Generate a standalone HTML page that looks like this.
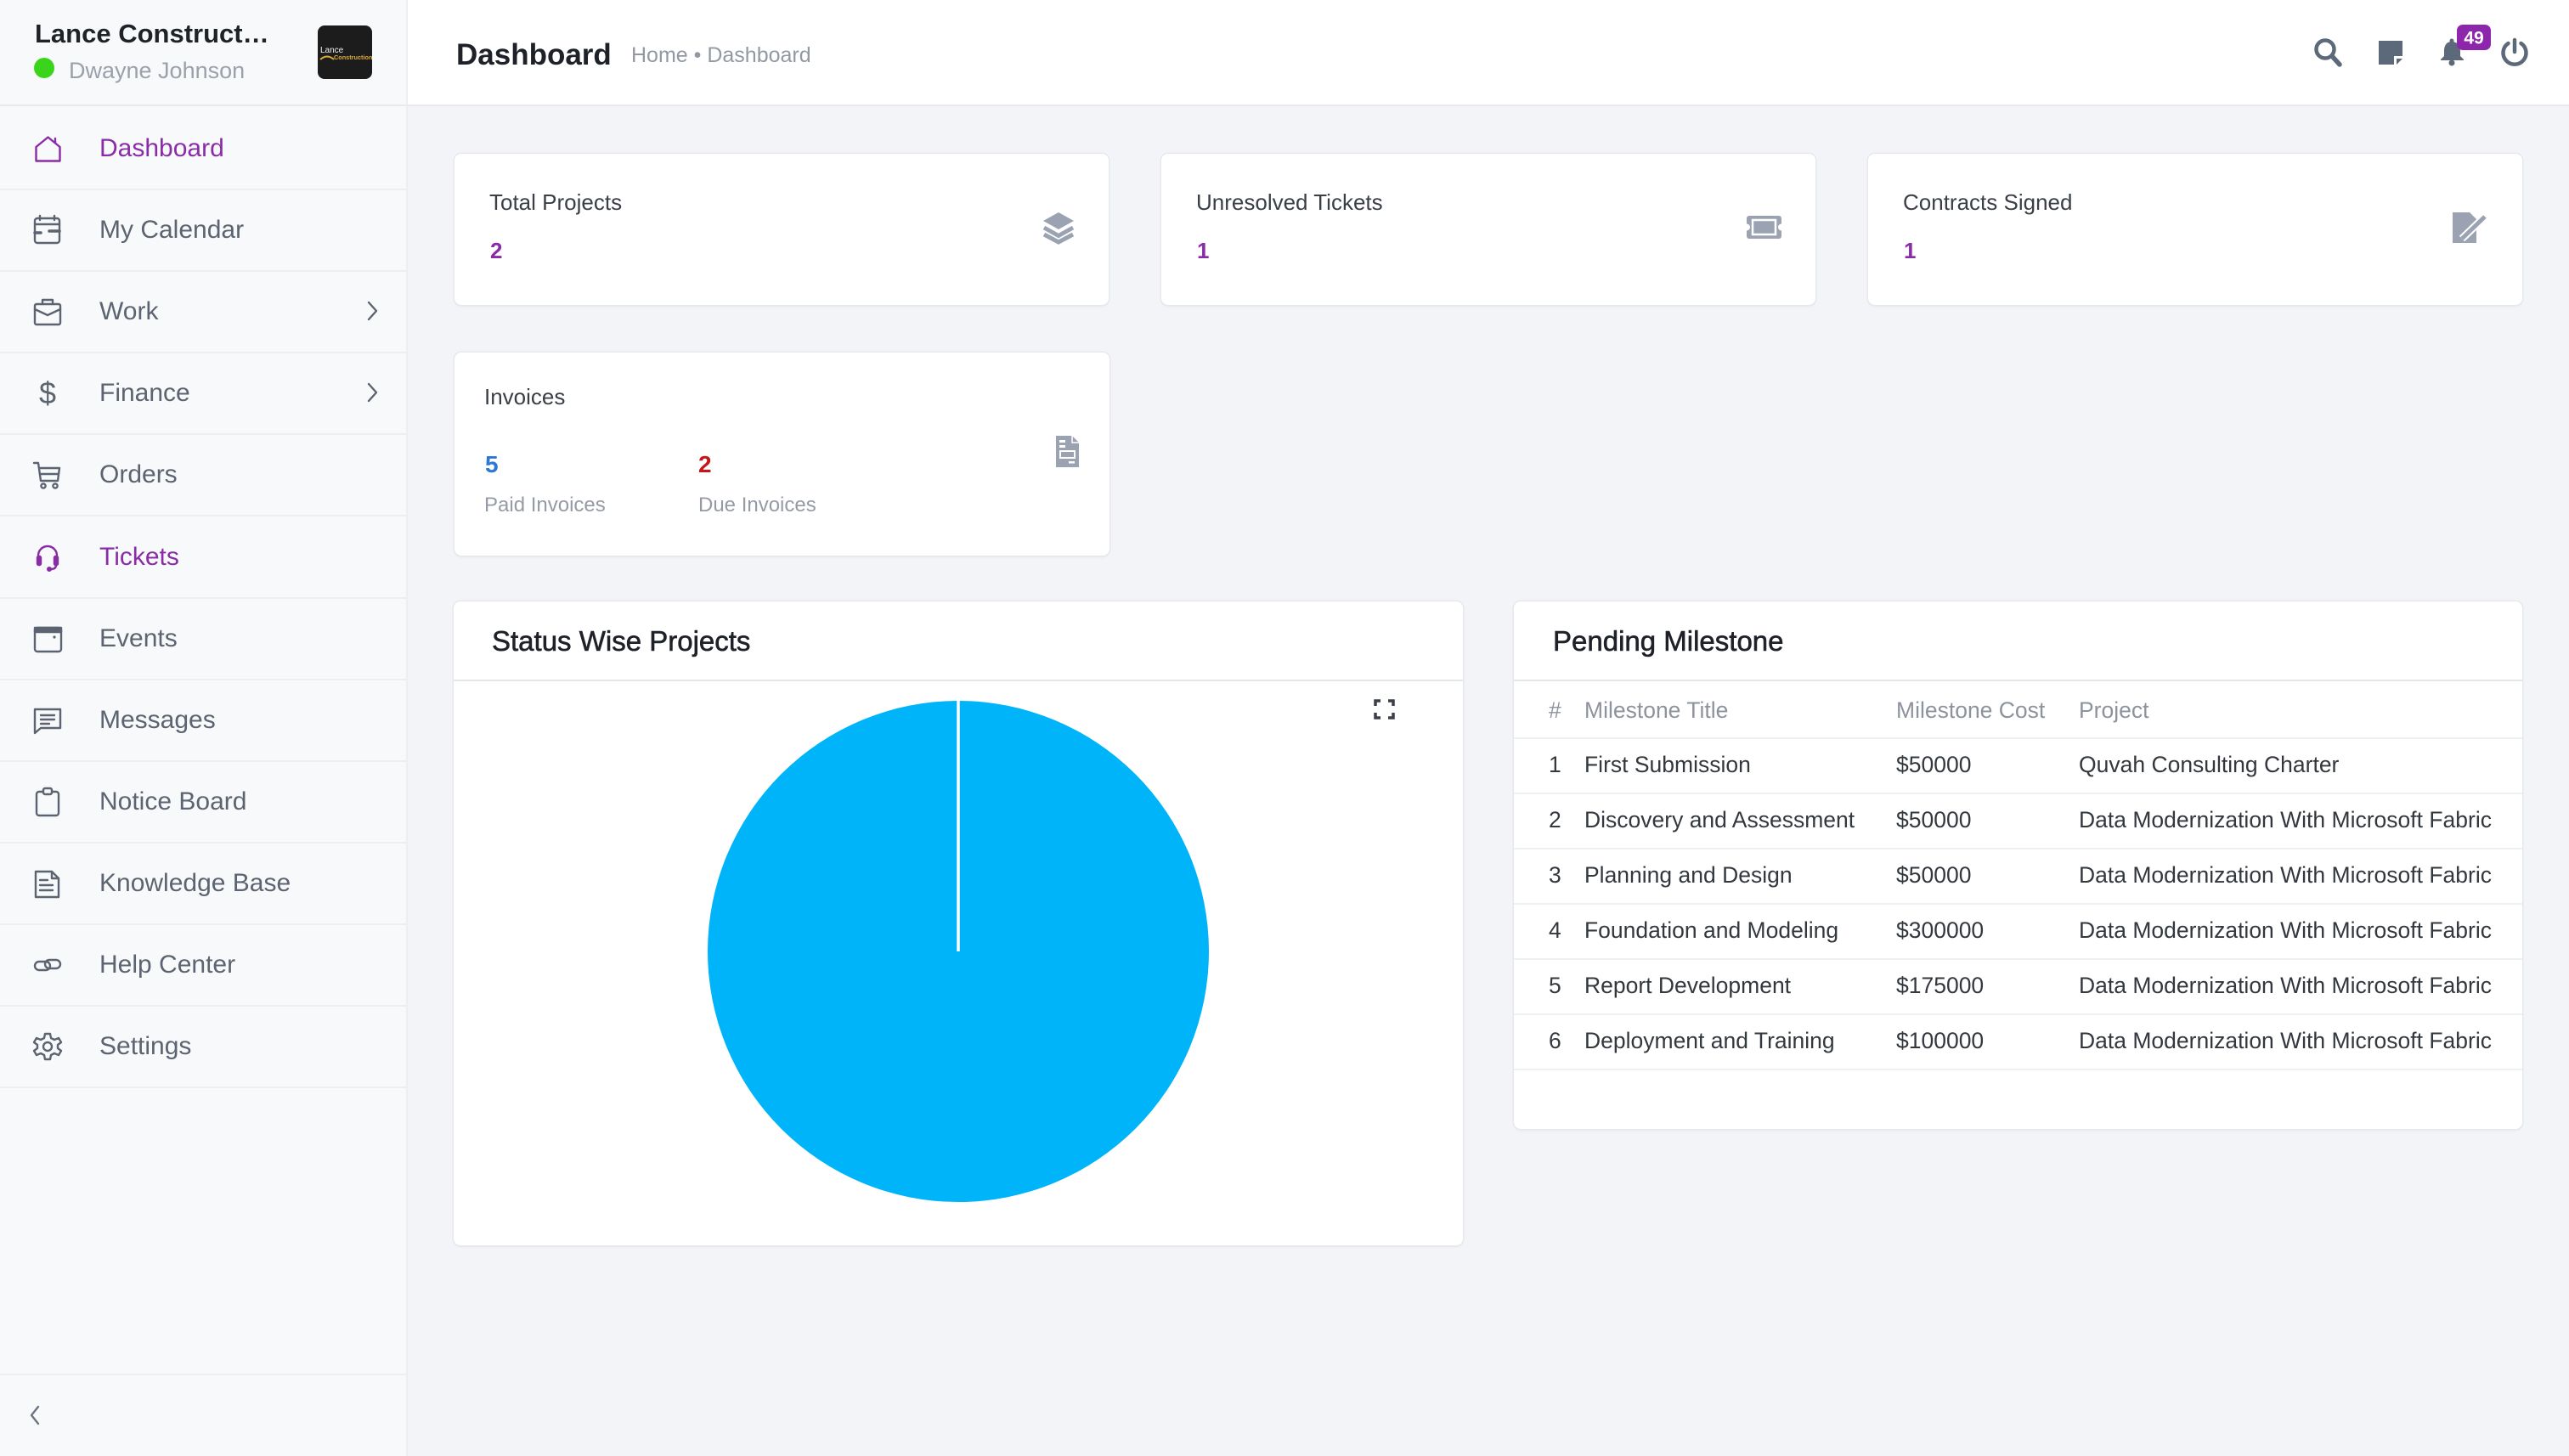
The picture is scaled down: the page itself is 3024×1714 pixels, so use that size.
<!DOCTYPE html>
<html><head><meta charset="utf-8">
<style>
*{margin:0;padding:0;box-sizing:border-box}
html,body{width:3024px;height:1714px;overflow:hidden;background:#f3f4f7;font-family:"Liberation Sans",Arial,sans-serif}
.a{position:absolute}
.t{position:absolute;white-space:nowrap}
.card{position:absolute;background:#fff;border-radius:8px;box-shadow:0 0 0 1.5px #e6e8ec,0 2px 3px rgba(0,0,0,0.05)}
.nav{position:absolute;left:117px;font-size:30px;line-height:30px;height:30px;color:#5b6470;white-space:nowrap}
.hl{position:absolute;left:0;width:478px;height:2px;background:#eceef1}
.th{position:absolute;font-size:26.5px;line-height:27px;color:#8d939d;white-space:nowrap}
.td{position:absolute;font-size:26.5px;line-height:27px;color:#33383e;white-space:nowrap}
.rl{position:absolute;left:1782px;width:1187px;height:2px;background:#eef0f2}
</style></head><body>

<!-- sidebar -->
<div class="a" style="left:0;top:0;width:478px;height:1714px;background:#f8f9fb"></div>
<div class="a" style="left:478px;top:0;width:2px;height:1714px;background:#eceef1"></div>
<!-- header -->
<div class="a" style="left:480px;top:0;width:2544px;height:123px;background:#fff"></div>
<div class="a" style="left:0;top:123px;width:3024px;height:2px;background:#e8eaed"></div>

<!-- sidebar lines -->
<div class="hl" style="top:222px"></div>
<div class="hl" style="top:318px"></div>
<div class="hl" style="top:414px"></div>
<div class="hl" style="top:510px"></div>
<div class="hl" style="top:606px"></div>
<div class="hl" style="top:703px"></div>
<div class="hl" style="top:799px"></div>
<div class="hl" style="top:895px"></div>
<div class="hl" style="top:991px"></div>
<div class="hl" style="top:1087px"></div>
<div class="hl" style="top:1183px"></div>
<div class="hl" style="top:1279px"></div>
<div class="hl" style="top:1617px"></div>

<!-- cards -->
<div class="card" style="left:535px;top:181px;width:770px;height:178px"></div>
<div class="card" style="left:1367px;top:181px;width:770px;height:178px"></div>
<div class="card" style="left:2199px;top:181px;width:770px;height:178px"></div>
<div class="card" style="left:535px;top:415px;width:771px;height:239px"></div>
<div class="card" style="left:534px;top:708px;width:1188px;height:758px"></div>
<div class="card" style="left:1782px;top:708px;width:1187px;height:621px"></div>
<div class="a" style="left:534px;top:800px;width:1188px;height:2px;background:#e4e6e9"></div>
<div class="a" style="left:1782px;top:800px;width:1187px;height:2px;background:#e4e6e9"></div>
<div class="rl" style="top:868px"></div>
<div class="rl" style="top:933px"></div>
<div class="rl" style="top:998px"></div>
<div class="rl" style="top:1063px"></div>
<div class="rl" style="top:1128px"></div>
<div class="rl" style="top:1193px"></div>
<div class="rl" style="top:1258px"></div>

<!-- overlay svg -->
<svg class="a" style="left:0;top:0" width="3024" height="1714" viewBox="0 0 3024 1714" xmlns="http://www.w3.org/2000/svg">
 <!-- logo -->
 <rect x="374" y="30" width="64" height="63" rx="8" fill="#1c1c1c"/>
 <text x="377" y="62" font-family="Liberation Sans, sans-serif" font-size="10" fill="#f2f2f2">Lance</text>
 <path d="M377 70 Q385 63 393 70" stroke="#d9aa3c" stroke-width="2" fill="none"/>
 <text x="393" y="70" font-family="Liberation Sans, sans-serif" font-size="7.3" font-weight="bold" fill="#d9aa3c">Construction</text>
 <circle cx="52" cy="80" r="12" fill="#3ad51a"/>

 <!-- nav icons -->
 <g fill="none" stroke="#5b6470" stroke-width="2.4" stroke-linejoin="round" stroke-linecap="round">
  <g transform="translate(38,158)" stroke="#8a2ca7">
   <path d="M4.5 15 L18.5 3.5 L32.5 15 V31.5 H4.5 Z"/>
   <path d="M27 5 V10"/>
  </g>
  <g transform="translate(38,252)">
   <rect x="3" y="5" width="29" height="29" rx="3"/>
   <path d="M9 2 V7 M26 2 V7 M3 12 H32"/>
   <path d="M3 22 H10 M20 20 H32" stroke-width="3.5"/>
  </g>
  <g transform="translate(38,349)">
   <rect x="3" y="9" width="30" height="24" rx="2"/>
   <path d="M12 9 V4 H24 V9"/>
   <path d="M3 15 L18 22 L33 15"/>
  </g>
  <g transform="translate(38,541)">
   <path d="M2 4 H7 L10 25 H30 L32 10 H8"/>
   <path d="M9 17 H31"/>
   <circle cx="13" cy="31" r="2.6"/>
   <circle cx="27" cy="31" r="2.6"/>
  </g>
  <g transform="translate(38,638)" stroke="#8a2ca7">
   <path d="M7 22 V16 A11 11 0 0 1 29 16 V22"/>
   <rect x="6" y="17" width="4" height="10" rx="1.5" fill="#8a2ca7"/>
   <rect x="26" y="17" width="4" height="10" rx="1.5" fill="#8a2ca7"/>
   <path d="M28 27 Q28 32 22 32"/>
   <circle cx="20" cy="32" r="1.8" fill="#8a2ca7"/>
  </g>
  <g transform="translate(38,734)">
   <rect x="3" y="5" width="31" height="28" rx="3"/>
   <rect x="3" y="5" width="31" height="5" fill="#5b6470"/>
   <circle cx="26" cy="16" r="1.6" fill="#5b6470" stroke="none"/>
  </g>
  <g transform="translate(38,830)">
   <path d="M3 5 H33 V27 H10 L3 33 Z"/>
   <path d="M10 12 H26 M10 17 H26 M10 22 H20"/>
  </g>
  <g transform="translate(38,926)">
   <rect x="5" y="6" width="26" height="28" rx="3"/>
   <rect x="13" y="2" width="10" height="7" rx="2" fill="#f8f9fb"/>
  </g>
  <g transform="translate(38,1022)">
   <path d="M4 4 H23 L31 12 V34 H4 Z"/>
   <path d="M23 4 V12 H31"/>
   <path d="M9 14 H18 M9 20 H24 M9 26 H24"/>
  </g>
  <g transform="translate(38,1118)">
   <rect x="3" y="14" width="18" height="10" rx="5"/>
   <rect x="15" y="12" width="18" height="10" rx="5"/>
  </g>
  <g transform="translate(38,1214)">
   <path d="M15 3 H21 L22 8 L26 10 L31 8 L34 13 L30 16 V20 L34 23 L31 28 L26 26 L22 28 L21 33 H15 L14 28 L10 26 L5 28 L2 23 L6 20 V16 L2 13 L5 8 L10 10 L14 8 Z"/>
   <circle cx="18" cy="18" r="5"/>
  </g>
  <path d="M434 356 L443 366 L434 376"/>
  <path d="M434 452 L443 462 L434 472"/>
  <path d="M45 1656 L37 1666 L45 1676" stroke="#6b7480"/>
 </g>
 <text x="56" y="475" text-anchor="middle" font-family="Liberation Sans, sans-serif" font-size="36" fill="#5b6470">$</text>

 <!-- header icons -->
 <g fill="#5c697a" stroke="#5c697a">
  <circle cx="2737" cy="58" r="10.5" fill="none" stroke-width="4.5"/>
  <path d="M2745 66 L2754 76" stroke-width="5.5" stroke-linecap="round"/>
  <path d="M2800 48 H2828 V66 H2818 V76 H2800 Z" stroke="none"/>
  <path d="M2821 76 L2828 69 H2821 Z" stroke="none"/>
  <path d="M2886 49 C2879 49 2877 55 2877 60 L2877 66 L2873 70 L2873 71 L2900 71 L2900 70 L2896 66 L2896 60 C2896 55 2893 49 2886 49 Z" stroke="none"/>
  <circle cx="2886" cy="48" r="2.5" stroke="none"/>
  <circle cx="2886" cy="74" r="3.5" stroke="none"/>
  <path d="M2967.5 51 A13.5 13.5 0 1 1 2952.5 51" fill="none" stroke-width="4.5" stroke-linecap="round"/>
  <path d="M2960 47 V61" stroke-width="4.5" stroke-linecap="round"/>
 </g>
 <rect x="2892" y="29" width="40" height="30" rx="7" fill="#8e26ab"/>
 <text x="2912" y="51.5" text-anchor="middle" font-family="Liberation Sans, sans-serif" font-size="21" font-weight="bold" fill="#fff">49</text>

 <!-- card icons -->
 <g fill="#9ba3b3">
  <polygon points="1246,250 1264,260 1246,270 1228,260"/>
  <path d="M1229 268 L1246 277.5 L1263 268" fill="none" stroke="#9ba3b3" stroke-width="5"/>
  <path d="M1229 276 L1246 285 L1263 276" fill="none" stroke="#9ba3b3" stroke-width="5"/>
  <rect x="2056" y="254" width="41" height="27" rx="3"/>
  <circle cx="2056" cy="267.5" r="4" fill="#fff"/>
  <circle cx="2097" cy="267.5" r="4" fill="#fff"/>
  <rect x="2063" y="259" width="27" height="17" fill="none" stroke="#fff" stroke-width="2.5"/>
  <path d="M2887 250 H2907 L2915 258 V286 H2887 Z"/>
  <path d="M2898 281 L2925 255" stroke="#fff" stroke-width="9"/>
  <path d="M2898 281 L2925 255" stroke="#9ba3b3" stroke-width="5"/>
  <path d="M1243 513 H1262 L1270 521 V550 H1243 Z"/>
  <path d="M1262 513 V521 H1270" fill="none" stroke="#fff" stroke-width="1.5"/>
  <rect x="1247" y="518" width="7" height="3" fill="#fff"/>
  <rect x="1247" y="524" width="7" height="3" fill="#fff"/>
  <rect x="1248" y="531" width="17" height="8" fill="none" stroke="#fff" stroke-width="2"/>
  <rect x="1258" y="543" width="7" height="2.5" fill="#fff"/>
 </g>

 <!-- fullscreen -->
 <g fill="none" stroke="#3a3f47" stroke-width="3.5">
  <path d="M1619 831 V825 H1625 M1634 825 H1640 V831 M1619 839 V845 H1625 M1634 845 H1640 V839"/>
 </g>

 <!-- pie -->
 <circle cx="1128" cy="1120" r="295" fill="#00b4f9"/>
 <path d="M1128 1120 V825" stroke="#fff" stroke-width="3.5"/>
</svg>

<!-- sidebar text -->
<div class="t" style="left:41px;top:24px;font-size:31px;line-height:31px;font-weight:bold;color:#1f2328">Lance Construct…</div>
<div class="t" style="left:81px;top:70px;font-size:27px;line-height:27px;color:#9aa1aa">Dwayne Johnson</div>

<div class="nav" style="top:160px;color:#8a2ca7">Dashboard</div>
<div class="nav" style="top:256px">My Calendar</div>
<div class="nav" style="top:352px">Work</div>
<div class="nav" style="top:448px">Finance</div>
<div class="nav" style="top:544px">Orders</div>
<div class="nav" style="top:641px;color:#8a2ca7">Tickets</div>
<div class="nav" style="top:737px">Events</div>
<div class="nav" style="top:833px">Messages</div>
<div class="nav" style="top:929px">Notice Board</div>
<div class="nav" style="top:1025px">Knowledge Base</div>
<div class="nav" style="top:1121px">Help Center</div>
<div class="nav" style="top:1217px">Settings</div>

<!-- header text -->
<div class="t" style="left:537px;top:47px;font-size:35px;line-height:35px;font-weight:bold;color:#1e2228">Dashboard</div>
<div class="t" style="left:743px;top:53px;font-size:25px;line-height:25px;color:#9399a3">Home • Dashboard</div>

<!-- cards text -->
<div class="t" style="left:576px;top:225px;font-size:26px;line-height:26px;color:#3a3f45">Total Projects</div>
<div class="t" style="left:577px;top:282px;font-size:26px;line-height:26px;font-weight:bold;color:#8b2aa8">2</div>
<div class="t" style="left:1408px;top:225px;font-size:26px;line-height:26px;color:#3a3f45">Unresolved Tickets</div>
<div class="t" style="left:1409px;top:282px;font-size:26px;line-height:26px;font-weight:bold;color:#8b2aa8">1</div>
<div class="t" style="left:2240px;top:225px;font-size:26px;line-height:26px;color:#3a3f45">Contracts Signed</div>
<div class="t" style="left:2241px;top:282px;font-size:26px;line-height:26px;font-weight:bold;color:#8b2aa8">1</div>

<div class="t" style="left:570px;top:454px;font-size:26px;line-height:26px;color:#3a3f45">Invoices</div>
<div class="t" style="left:571px;top:533px;font-size:28px;line-height:28px;font-weight:bold;color:#2b78d6">5</div>
<div class="t" style="left:822px;top:533px;font-size:28px;line-height:28px;font-weight:bold;color:#c4161c">2</div>
<div class="t" style="left:570px;top:583px;font-size:24px;line-height:24px;color:#959ba4">Paid Invoices</div>
<div class="t" style="left:822px;top:583px;font-size:24px;line-height:24px;color:#959ba4">Due Invoices</div>

<div class="t" style="left:579px;top:738px;font-size:33px;line-height:33px;color:#1e2228;-webkit-text-stroke:0.6px #1e2228">Status Wise Projects</div>
<div class="t" style="left:1828px;top:738px;font-size:33px;line-height:33px;color:#1e2228;-webkit-text-stroke:0.6px #1e2228">Pending Milestone</div>

<!-- table -->
<div class="th" style="left:1823px;top:823px">#</div>
<div class="th" style="left:1865px;top:823px">Milestone Title</div>
<div class="th" style="left:2232px;top:823px">Milestone Cost</div>
<div class="th" style="left:2447px;top:823px">Project</div>

<div class="td" style="left:1823px;top:887px">1</div>
<div class="td" style="left:1865px;top:887px">First Submission</div>
<div class="td" style="left:2232px;top:887px">$50000</div>
<div class="td" style="left:2447px;top:887px">Quvah Consulting Charter</div>

<div class="td" style="left:1823px;top:952px">2</div>
<div class="td" style="left:1865px;top:952px">Discovery and Assessment</div>
<div class="td" style="left:2232px;top:952px">$50000</div>
<div class="td" style="left:2447px;top:952px">Data Modernization With Microsoft Fabric</div>

<div class="td" style="left:1823px;top:1017px">3</div>
<div class="td" style="left:1865px;top:1017px">Planning and Design</div>
<div class="td" style="left:2232px;top:1017px">$50000</div>
<div class="td" style="left:2447px;top:1017px">Data Modernization With Microsoft Fabric</div>

<div class="td" style="left:1823px;top:1082px">4</div>
<div class="td" style="left:1865px;top:1082px">Foundation and Modeling</div>
<div class="td" style="left:2232px;top:1082px">$300000</div>
<div class="td" style="left:2447px;top:1082px">Data Modernization With Microsoft Fabric</div>

<div class="td" style="left:1823px;top:1147px">5</div>
<div class="td" style="left:1865px;top:1147px">Report Development</div>
<div class="td" style="left:2232px;top:1147px">$175000</div>
<div class="td" style="left:2447px;top:1147px">Data Modernization With Microsoft Fabric</div>

<div class="td" style="left:1823px;top:1212px">6</div>
<div class="td" style="left:1865px;top:1212px">Deployment and Training</div>
<div class="td" style="left:2232px;top:1212px">$100000</div>
<div class="td" style="left:2447px;top:1212px">Data Modernization With Microsoft Fabric</div>

</body></html>
